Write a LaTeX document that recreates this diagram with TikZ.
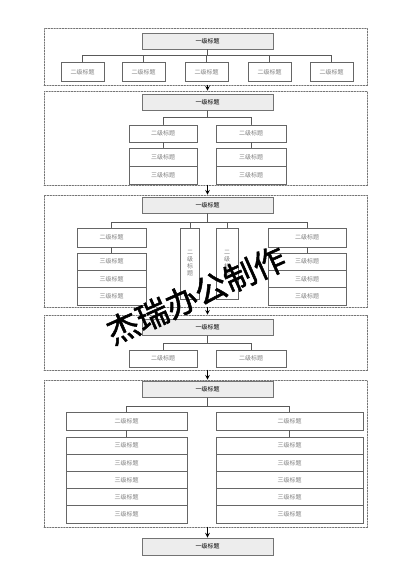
\documentclass[tikz,border=0pt]{standalone}
\usepackage{fontspec}
\newfontfamily\cjk{Noto Sans CJK SC}
\newfontfamily\cjkmark[FakeBold=1.6]{Noto Sans CJK SC}
\begin{document}
\begin{tikzpicture}[line cap=round,>=stealth,x=1pt,y=-1pt,
	every node/.style={font=\cjk\fontsize{6}{7}\selectfont,inner sep=0pt},
	frame/.style={draw=black!55,dash pattern=on 1.6pt off 1.2pt,line width=0.6pt,minimum width=323pt},
	topbox/.style={draw=black!55,fill=black!7,line width=0.8pt,minimum width=131pt,minimum height=16pt},
	subbox/.style={draw=black!60,fill=white,text=black!50,line width=0.8pt,minimum height=17pt},
	link/.style={draw=black!65,line width=0.6pt},
	flowarr/.style={->,line width=1.1pt}]
	\fill[white] (0,0) rectangle (412,584);
	% block 1
	\node[frame,minimum height=57pt] (f1) at (205.5,56.5) {};
	\node[topbox] (t1) at (207.5,41.5) {一级标题};
	\foreach \n/\x in {1/82.5,2/143.5,3/206.5,4/269.5,5/331.5}
		\node[subbox,minimum width=43pt,minimum height=19pt] (s1\n) at (\x,72) {二级标题};
	\foreach \n in {1,...,5} \draw[link] (t1.south) -- ++(0,5.5) -| (s1\n.north);
	% block 2
	\node[frame,minimum height=94pt] (f2) at (205.5,138) {};
	\node[topbox] (t2) at (207.5,102.5) {一级标题};
	\node[subbox,minimum width=68pt] (s2a) at (163,133.5) {二级标题};
	\node[subbox,minimum width=70pt] (s2b) at (251,133.5) {二级标题};
	\foreach \n/\y in {1/157,2/175}{
		\node[subbox,minimum width=68pt,minimum height=18pt] (s2a\n) at (163,\y) {三级标题};
		\node[subbox,minimum width=70pt,minimum height=18pt] (s2b\n) at (251,\y) {三级标题};
	}
	\foreach \c in {s2a,s2b} {
		\draw[link] (t2.south) -- ++(0,6) -| (\c.north);
		\draw[link] (\c.south) -- (\c1.north);
	}
	% block 3
	\node[frame,minimum height=112pt] (f3) at (205.5,251) {};
	\node[topbox] (t3) at (207.5,205.5) {一级标题};
	\node[subbox,minimum width=69pt,minimum height=19pt] (s3a) at (111.5,237.5) {二级标题};
	\node[subbox,minimum width=19pt,minimum height=71pt,align=center] (s3b) at (190,263.5) {二\\级\\标\\题};
	\node[subbox,minimum width=22pt,minimum height=71pt,align=center] (s3c) at (227,263.5) {二\\级\\标\\题};
	\node[subbox,minimum width=78pt,minimum height=19pt] (s3d) at (307,237.5) {二级标题};
	\foreach \n/\y in {1/261.7,2/279,3/296.3}{
		\node[subbox,minimum width=69pt,minimum height=17.3pt] (s3a\n) at (111.5,\y) {三级标题};
		\node[subbox,minimum width=78pt,minimum height=17.3pt] (s3d\n) at (307,\y) {三级标题};
	}
	\foreach \c in {s3a,s3b,s3c,s3d} \draw[link] (t3.south) -- ++(0,8) -| (\c.north);
	\draw[link] (s3a.south) -- (s3a1.north);
	\draw[link] (s3d.south) -- (s3d1.north);
	% block 4
	\node[frame,minimum height=55pt] (f4) at (205.5,342.5) {};
	\node[topbox] (t4) at (207.5,327.5) {一级标题};
	\node[subbox,minimum width=68pt] (s4a) at (163,358.5) {二级标题};
	\node[subbox,minimum width=70pt] (s4b) at (251,358.5) {二级标题};
	\foreach \c in {s4a,s4b} \draw[link] (t4.south) -- ++(0,7) -| (\c.north);
	% block 5
	\node[frame,minimum height=147pt] (f5) at (205.5,453.5) {};
	\node[topbox] (t5) at (207.5,389.5) {一级标题};
	\node[subbox,minimum width=121pt,minimum height=18pt] (s5a) at (126.5,421) {二级标题};
	\node[subbox,minimum width=147pt,minimum height=18pt] (s5b) at (289.5,421) {二级标题};
	\foreach \n/\y in {1/445.6,2/462.8,3/480,4/497.2,5/514.4}{
		\node[subbox,minimum width=121pt,minimum height=17.2pt] (s5a\n) at (126.5,\y) {三级标题};
		\node[subbox,minimum width=147pt,minimum height=17.2pt] (s5b\n) at (289.5,\y) {三级标题};
	}
	\foreach \c in {s5a,s5b} {
		\draw[link] (t5.south) -- ++(0,8) -| (\c.north);
		\draw[link] (\c.south) -- (\c1.north);
	}
	% last
	\node[topbox,minimum height=17pt] (t6) at (207.5,546.5) {一级标题};
	% arrows between blocks
	\draw[flowarr] (f1.south -| t1.south) -- (f2.north -| t2.north);
	\draw[flowarr] (f2.south -| t2.south) -- (f3.north -| t3.north);
	\draw[flowarr] (f3.south -| t3.south) -- (f4.north -| t4.north);
	\draw[flowarr] (f4.south -| t4.south) -- (f5.north -| t5.north);
	\draw[flowarr] (f5.south -| t5.south) -- (t6.north);
	% watermark
	\node[font=\cjkmark\fontsize{32}{32}\selectfont,rotate=24] (wm) at (196,295) {杰瑞办公制作};
\end{tikzpicture}
\end{document}
